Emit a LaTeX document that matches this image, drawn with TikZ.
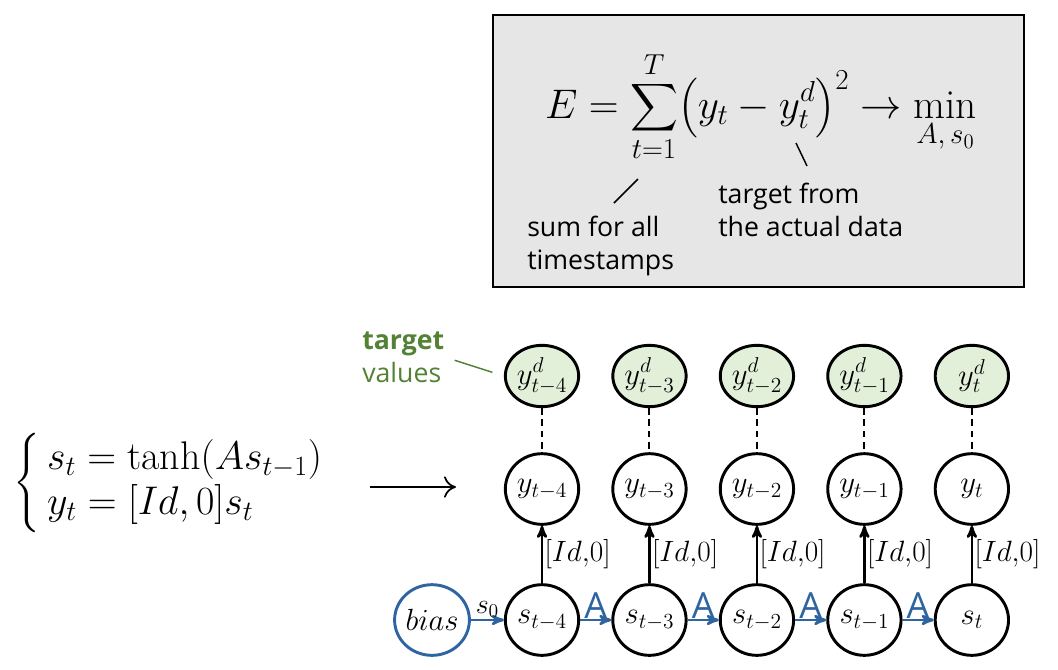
\RequirePackage{fix-cm}
\documentclass[tikz,border=0pt]{standalone}
\usepackage{fontspec}
\usepackage{amsmath}
\usetikzlibrary{arrows,arrows.meta,positioning,shapes.geometric}
\newfontfamily\labelfont{Open Sans}
\definecolor{boxgray}{RGB}{231,230,230}
\definecolor{targetgreen}{RGB}{84,130,53}
\definecolor{targetfill}{RGB}{226,240,217}
\definecolor{biasblue}{RGB}{46,100,160}

\begin{document}
\begin{tikzpicture}[x=0.75pt,y=-0.75pt,>=stealth',node distance=80.6pt,
    unit/.style={ellipse,draw,line width=2.2pt,minimum width=55pt,minimum height=53pt,inner sep=0pt,font=\fontsize{23}{27}\selectfont},
    target/.style={unit,fill=targetfill,minimum height=46pt},
    bias/.style={unit,draw=biasblue},
    readout/.style={->,line width=2pt},
    recur/.style={->,line width=2pt,draw=biasblue},
    weight/.style={above,text=biasblue,font=\labelfont\fontsize{27}{29}\selectfont,inner sep=0pt},
    idlabel/.style={right,inner sep=1pt,font=\fontsize{22}{25}\selectfont},
    note/.style={font=\labelfont\fontsize{20}{25}\selectfont,align=left,inner sep=0pt}]
    \useasboundingbox (0,0) rectangle (1058,669);

    % loss function
    \node[draw,line width=1.5pt,fill=boxgray,minimum width=398pt,minimum height=204pt] (loss) at (758.5,151) {};
    \node[font=\fontsize{31}{35}\selectfont] (eq) at (761,107) {$\displaystyle E=\sum_{t=1}^{T}\bigl(y_t-y_t^d\bigr)^2\to\min_{A,\,s_0}$};
    \node[note,anchor=west] (sumnote) at (527,246) {sum for all\\timestamps};
    \node[note,anchor=west] (datanote) at (718,210) {target from\\the actual data};
    \coordinate (sumfrom) at (638,179);
    \coordinate (sumto) at (614,203);
    \coordinate (datafrom) at (796,143);
    \coordinate (datato) at (807,166);
    \draw[line width=1.1pt] (sumfrom) -- (sumto);
    \draw[line width=1.1pt] (datafrom) -- (datato);

    % system
    \node[font=\fontsize{30}{34}\selectfont] (sys) at (172,483) {$\left\{\begin{array}{@{\,}l} s_t = \tanh(As_{t-1})\\ y_t=[Id,0]s_t\end{array}\right.$};
    \coordinate (unrollfrom) at (370,487);
    \coordinate (unrollto) at (456,487);
    \draw[-{To[length=9pt,width=16pt]},line width=1.3pt] (unrollfrom) -- (unrollto);

    % target values
    \node[target] (d4) at (542,376) {$y^d_{t-4}$};
    \node[target] (d3) [right of=d4] {$y^d_{t-3}$};
    \node[target] (d2) [right of=d3] {$y^d_{t-2}$};
    \node[target] (d1) [right of=d2] {$y^d_{t-1}$};
    \node[target] (d0) [right of=d1] {$y^d_{t}$};

    % outputs
    \node[unit] (y4) at (542,489) {$y_{t-4}$};
    \node[unit] (y3) [right of=y4] {$y_{t-3}$};
    \node[unit] (y2) [right of=y3] {$y_{t-2}$};
    \node[unit] (y1) [right of=y2] {$y_{t-1}$};
    \node[unit] (y0) [right of=y1] {$y_{t}$};

    % states
    \node[unit] (s4) at (542,620) {$s_{t-4}$};
    \node[unit] (s3) [right of=s4] {$s_{t-3}$};
    \node[unit] (s2) [right of=s3] {$s_{t-2}$};
    \node[unit] (s1) [right of=s2] {$s_{t-1}$};
    \node[unit] (s0) [right of=s1] {$s_{t}$};
    \node[bias] (b) [left of=s4,node distance=82.5pt] {$bias$};

    \node[note,text=targetgreen,anchor=west] (tv) at (362,357) {\textbf{target}\\values};
    \draw[targetgreen,line width=1.1pt,shorten <=8pt,shorten >=9pt] (tv.east) -- (d4.west);

    \path[dashed,line width=1.5pt,dash pattern=on 5pt off 3.5pt] (d4) edge (y4) (d3) edge (y3) (d2) edge (y2) (d1) edge (y1) (d0) edge (y0);

    \path[readout] (s4) edge node[idlabel] {$[Id{,}0]$} (y4);
    \path[readout] (s3) edge node[idlabel] {$[Id{,}0]$} (y3);
    \path[readout] (s2) edge node[idlabel] {$[Id{,}0]$} (y2);
    \path[readout] (s1) edge node[idlabel] {$[Id{,}0]$} (y1);
    \path[readout] (s0) edge node[idlabel] {$[Id{,}0]$} (y0);

    \path[recur] (b) edge node[above,text=black,inner sep=1pt,font=\fontsize{21}{24}\selectfont] {$s_0$} (s4);
    \path[recur] (s4) edge node[weight] {A} (s3);
    \path[recur] (s3) edge node[weight] {A} (s2);
    \path[recur] (s2) edge node[weight] {A} (s1);
    \path[recur] (s1) edge node[weight] {A} (s0);
\end{tikzpicture}
\end{document}
